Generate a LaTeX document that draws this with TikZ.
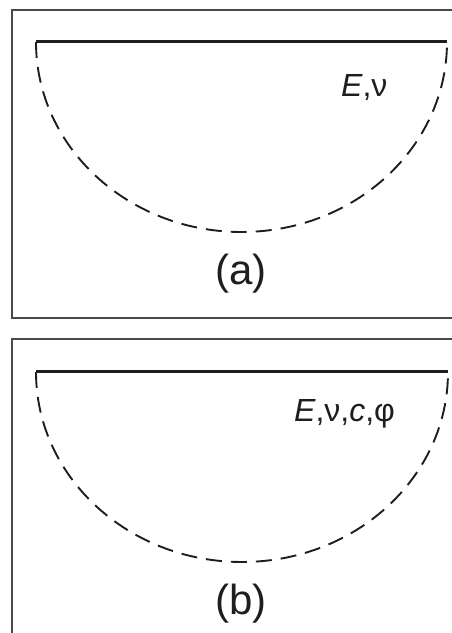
\documentclass[tikz,border=0pt]{standalone}
\usepackage{fontspec}
\setmainfont{Liberation Sans}
\definecolor{ink}{HTML}{1E1E1E}
\definecolor{framec}{HTML}{4A4A4A}
\tikzset{
  frameline/.style={draw=framec, line width=1.2pt},
  topline/.style={draw=ink, line width=3pt},
  dasharc/.style={draw=ink, line width=1.9pt, dash pattern=on 16pt off 9pt},
  paramlabel/.style={anchor=base west, inner sep=0pt, text=ink, font=\fontsize{32}{32}\selectfont},
  caplabel/.style={anchor=base, inner sep=0pt, text=ink, font=\fontsize{42}{42}\selectfont},
}
\begin{document}
\begin{tikzpicture}[x=1pt,y=1pt]
\useasboundingbox (0,0) rectangle (452,633);
% frames
\draw[frameline] (453,623) -- (12,623) -- (12,315) -- (453,315);
\draw[frameline] (453,294) -- (12,294) -- (12,-1);
% panel (a)
\coordinate (aL) at (36,591);
\coordinate (aR) at (447,591);
\draw[topline] (aL) -- (aR);
\draw[dasharc] (aL) arc[start angle=180, end angle=360, x radius=205.5, y radius=190];
\node[paramlabel] (alab) at (341,536) {\textit{E},ν};
\node[caplabel] (acap) at (241,348) {(a)};
% panel (b)
\coordinate (bL) at (36,261);
\coordinate (bR) at (448,261);
\draw[topline] (bL) -- (bR);
\draw[dasharc] (bL) arc[start angle=180, end angle=360, x radius=206, y radius=190];
\node[paramlabel] (blab) at (294,211) {\textit{E},ν,\textit{c},φ};
\node[caplabel] (bcap) at (241,18) {(b)};
\end{tikzpicture}
\end{document}
